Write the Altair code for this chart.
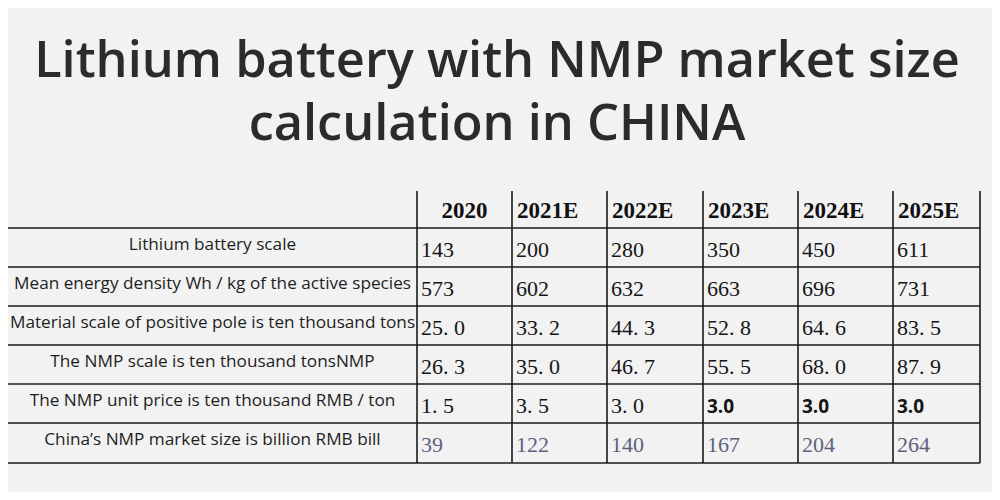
import altair as alt
import pandas as pd

# ---- data ----
title_lines = ["Lithium battery with NMP market size", "calculation in CHINA"]
years = ["2020", "2021E", "2022E", "2023E", "2024E", "2025E"]
row_labels = [
    "Lithium battery scale",
    "Mean energy density Wh / kg of the active species",
    "Material scale of positive pole is ten thousand tons",
    "The NMP scale is ten thousand tonsNMP",
    "The NMP unit price is ten thousand RMB / ton",
    "China\u2019s NMP market size is billion RMB bill",
]
battery_scale = ["143", "200", "280", "350", "450", "611"]
energy_density = ["573", "602", "632", "663", "696", "731"]
cathode_scale = ["25. 0", "33. 2", "44. 3", "52. 8", "64. 6", "83. 5"]
nmp_scale = ["26. 3", "35. 0", "46. 7", "55. 5", "68. 0", "87. 9"]
nmp_price = ["1. 5", "3. 5", "3. 0", "3.0", "3.0", "3.0"]
market_size = ["39", "122", "140", "167", "204", "264"]
value_rows = [battery_scale, energy_density, cathode_scale, nmp_scale, nmp_price, market_size]

# ---- layout (page pixel units) ----
col_edges = [8, 417, 512, 607, 703, 798, 893, 980]
row_edges = [191, 228, 267, 306, 345, 384, 423, 463]
W, H = 984, 484
BG = "#f2f2f2"

xs = alt.Scale(domain=[8, 8 + W], range=[0, W])
ys = alt.Scale(domain=[8, 8 + H], range=[0, H])

def X(f="x"):
    return alt.X(f"{f}:Q", scale=xs, axis=None)

def Y(f="y"):
    return alt.Y(f"{f}:Q", scale=ys, axis=None)

# title
title_df = pd.DataFrame({"text": title_lines, "x": [497, 497], "y": [77, 140]})
title = alt.Chart(title_df).mark_text(
    font="Open Sans", fontSize=50.5, fontWeight=600, color="#2b2b2b",
    align="center", baseline="alphabetic"
).encode(x=X(), y=Y(), text="text:N")

# grid lines
h_df = pd.DataFrame({"y": row_edges[1:], "x": col_edges[0], "x2": col_edges[-1]})
h_lines = alt.Chart(h_df).mark_rule(color="#1a1a1a", strokeWidth=1.6).encode(
    x=X(), x2="x2:Q", y=Y()
)
v_df = pd.DataFrame({"x": col_edges[1:], "y": row_edges[0], "y2": row_edges[-1]})
v_lines = alt.Chart(v_df).mark_rule(color="#1a1a1a", strokeWidth=1.6).encode(
    x=X(), y=Y(), y2="y2:Q"
)

# header
hdr_rows = []
for i, yr in enumerate(years):
    if i == 0:
        hdr_rows.append({"text": yr, "x": (col_edges[1] + col_edges[2]) / 2, "y": row_edges[0] + 27, "al": "c"})
    else:
        hdr_rows.append({"text": yr, "x": col_edges[i + 1] + 5, "y": row_edges[0] + 27, "al": "l"})
hdr_df = pd.DataFrame(hdr_rows)
hdr_c = alt.Chart(hdr_df[hdr_df.al == "c"]).mark_text(
    font="Liberation Serif", fontSize=23, fontWeight="bold", color="#111", align="center", baseline="alphabetic"
).encode(x=X(), y=Y(), text="text:N")
hdr_l = alt.Chart(hdr_df[hdr_df.al == "l"]).mark_text(
    font="Liberation Serif", fontSize=23, fontWeight="bold", color="#111", align="left", baseline="alphabetic"
).encode(x=X(), y=Y(), text="text:N")

# row labels
lab_df = pd.DataFrame({
    "text": row_labels,
    "x": [(col_edges[0] + col_edges[1]) / 2] * len(row_labels),
    "y": [row_edges[i + 1] + 22 for i in range(len(row_labels))],
})
labels = alt.Chart(lab_df).mark_text(
    font="Open Sans", fontSize=17.2, color="#1e1e1e", align="center", baseline="alphabetic"
).encode(x=X(), y=Y(), text="text:N")

# values
val_rows = []
for r, row in enumerate(value_rows):
    for c, v in enumerate(row):
        kind = "serif"
        color = "#151515"
        if r == 4 and c >= 3:
            kind = "sans"
        if r == 5:
            color = "#5d617e"
        val_rows.append({"text": v, "x": col_edges[c + 1] + 4, "y": row_edges[r + 1] + 29,
                         "kind": kind, "color": color})
val_df = pd.DataFrame(val_rows)
vals_serif = alt.Chart(val_df[val_df.kind == "serif"]).mark_text(
    font="Liberation Serif", fontSize=22, align="left", baseline="alphabetic"
).encode(x=X(), y=Y(), text="text:N", color=alt.Color("color:N", scale=None))
vals_sans = alt.Chart(val_df[val_df.kind == "sans"]).mark_text(
    font="Open Sans", fontSize=19, fontWeight="bold", align="left", baseline="alphabetic"
).encode(x=X(), y=Y(), text="text:N", color=alt.Color("color:N", scale=None))

chart = alt.layer(title, h_lines, v_lines, hdr_c, hdr_l, labels, vals_serif, vals_sans).properties(
    width=W, height=H, autosize=alt.AutoSizeParams(type="none"), padding=0, background=BG
).configure_view(stroke=None, fill=BG)

chart.save("out.html", embed_options={"renderer": "svg", "actions": False})
